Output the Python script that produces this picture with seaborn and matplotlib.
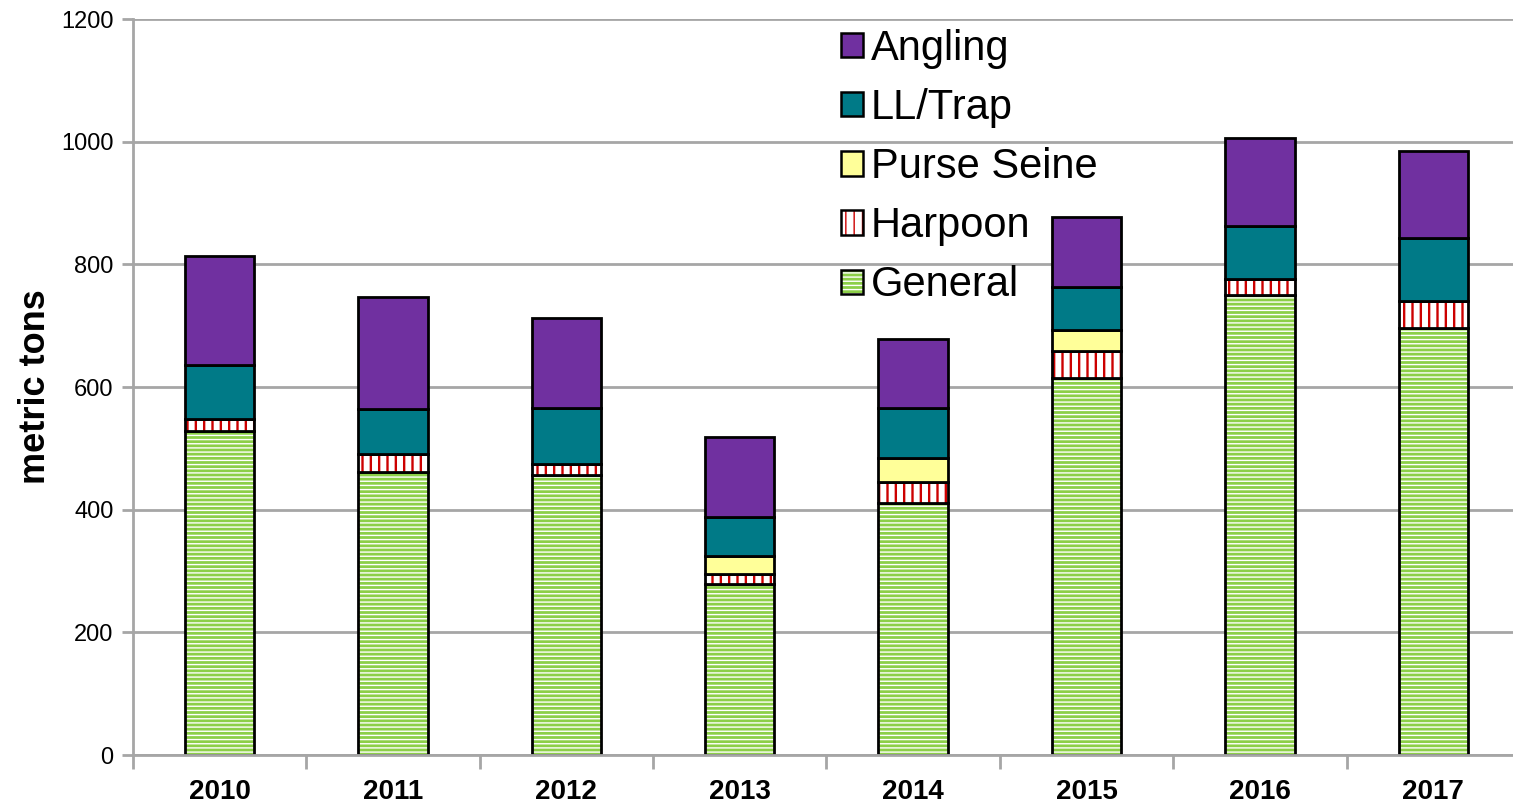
import numpy as np
import pandas as pd
import matplotlib
matplotlib.use("Agg")
import matplotlib.pyplot as plt
import seaborn as sns
from matplotlib.patches import Patch
from matplotlib.legend_handler import HandlerTuple

years = ["2010", "2011", "2012", "2013", "2014", "2015", "2016", "2017"]
general = [528, 461, 456, 279, 411, 615, 750, 696]
harpoon = [20, 30, 18, 16, 34, 44, 26, 44]
purse_seine = [0, 0, 0, 29, 39, 34, 0, 0]
ll_trap = [88, 73, 92, 64, 82, 70, 87, 103]
angling = [178, 183, 147, 130, 112, 114, 143, 142]

sns.set_style("white")
plt.rcParams["font.family"] = ["Liberation Sans Narrow", "Liberation Sans", "DejaVu Sans"]
plt.rcParams["text.color"] = "black"
plt.rcParams["axes.labelcolor"] = "black"
plt.rcParams["xtick.labelcolor"] = "black"
plt.rcParams["ytick.labelcolor"] = "black"

fig = plt.figure(figsize=(15.13, 8.10), dpi=100)
ax = fig.add_axes([0.0879, 0.0679, 0.9167, 0.9086])

# name, values, face colour, hatch colour, hatch, hatch width
layers = [
    ("General", general, "#8CCF48", "white", "----", 1.0),
    ("Harpoon", harpoon, "white", "#CC0000", "||", 1.7),
    ("Purse Seine", purse_seine, "#FFFF99", None, None, 1.0),
    ("LL/Trap", ll_trap, "#007A87", None, None, 1.0),
    ("Angling", angling, "#7030A0", None, None, 1.0),
]

bottom = np.zeros(len(years))
handles = {}
for name, vals, face, hcol, hatch, hlw in layers:
    vals = np.array(vals, dtype=float)
    with plt.rc_context({"hatch.linewidth": hlw}):
        if hatch:
            sns.barplot(x=years, y=vals, bottom=bottom, color=face, edgecolor=hcol,
                        hatch=hatch, linewidth=0, width=0.4, saturation=1, ax=ax)
            handles[name] = (Patch(facecolor=face, edgecolor=hcol, hatch=hatch, linewidth=0),
                             Patch(facecolor="none", edgecolor="black", linewidth=1.8))
        else:
            sns.barplot(x=years, y=vals, bottom=bottom, color=face, edgecolor="none",
                        linewidth=0, width=0.4, saturation=1, ax=ax)
            handles[name] = Patch(facecolor=face, edgecolor="black", linewidth=1.8)
    sns.barplot(x=years, y=vals, bottom=bottom, facecolor="none", edgecolor="black",
                linewidth=2, width=0.4, fill=False, color="black", ax=ax)
    bottom = bottom + vals

ax.set_ylim(0, 1200)
ax.set_xlim(-0.5, 7.5)
ax.set_yticks(np.arange(0, 1201, 200))
ax.yaxis.grid(True, color="#A6A6A6", linewidth=2)
ax.set_axisbelow(True)
for s in ["top", "right"]:
    ax.spines[s].set_visible(False)
for s in ["left", "bottom"]:
    ax.spines[s].set_color("#A6A6A6")
    ax.spines[s].set_linewidth(2)

ax.set_xticks(np.arange(-0.5, 8, 1), minor=True)
ax.tick_params(axis="x", which="major", length=0, pad=17, labelsize=20)
ax.tick_params(axis="x", which="minor", length=10, width=2, color="#A6A6A6", direction="out", bottom=True)
ax.tick_params(axis="y", length=8, width=2, color="#A6A6A6", direction="out", left=True, labelsize=17, pad=6)
for lab in ax.get_xticklabels():
    lab.set_fontweight("bold")
ax.set_xlabel("")
ax.set_ylabel("metric tons", fontsize=26, fontweight="bold", labelpad=6)

order = ["Angling", "LL/Trap", "Purse Seine", "Harpoon", "General"]
leg = ax.legend([handles[n] for n in order], order, loc="upper left",
                bbox_to_anchor=(0.4955, 1.015), frameon=False, fontsize=30,
                borderpad=0, handlelength=0.52, handleheight=0.52, handletextpad=0.2,
                labelspacing=0.46, handler_map={tuple: HandlerTuple(ndivide=1)})

fig.savefig("out.png", dpi=100)
